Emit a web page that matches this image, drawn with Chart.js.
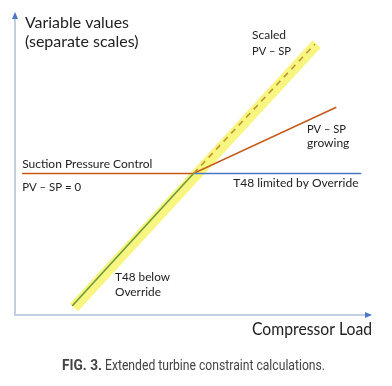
<!DOCTYPE html>
<html>
<head>
<meta charset="utf-8">
<script src="https://cdn.jsdelivr.net/npm/chart.js@4.4.1/dist/chart.umd.min.js"></script>
<style>
  html, body { margin: 0; padding: 0; background: #fff; }
  #wrap { width: 392px; height: 386px; position: relative; }
</style>
</head>
<body>
<div id="wrap"><canvas id="turbineChart"></canvas></div>
<script>
// line data (x = compressor load, y = variable value, arbitrary units 0-100)
const suctionX = [2, 50, 90];
const suctionY = [47, 47, 69];
const t48LimitedX = [50, 97];
const t48LimitedY = [47, 47];
const t48BelowX = [16, 50];
const t48BelowY = [3, 47];
const scaledX = [50, 84];
const scaledY = [47, 90];
const highlightX = [16.5, 84.5];
const highlightY = [2.5, 90];

const pts = (xs, ys) => xs.map((x, i) => ({ x: x, y: ys[i] }));

// text notes, anchored in data units
const notes = [
  { lines: ['Variable values', '(separate scales)'], x: 2.8, y: 95.4, size: 16, gap: 19, w: [104, 115] },
  { lines: ['Scaled', 'PV \u2013 SP'], x: 66.4, y: 91.7, size: 12, gap: 16, w: [34, 39] },
  { lines: ['PV \u2013 SP', 'growing'], x: 81.8, y: 60.5, size: 12, gap: 14, w: [39, 44] },
  { lines: ['Suction Pressure Control'], x: 2, y: 48.8, size: 12, gap: 0, w: [133] },
  { lines: ['PV \u2013 SP = 0'], x: 2, y: 41.2, size: 12, gap: 0, w: [59] },
  { lines: ['T48 limited by Override'], x: 61.1, y: 42.5, size: 12, gap: 0, w: [127] },
  { lines: ['T48 below', 'Override'], x: 28, y: 11.3, size: 12, gap: 15, w: [55, 46] },
];

const axesAndText = {
  id: 'axesAndText',
  beforeDatasetsDraw(chart) {
    const ctx = chart.ctx;
    const a = chart.chartArea;
    ctx.save();
    ctx.strokeStyle = '#c3cfe0';
    ctx.lineWidth = 2;
    ctx.beginPath();
    ctx.moveTo(a.left, 18);
    ctx.lineTo(a.left, a.bottom);
    ctx.lineTo(a.right - 4, a.bottom);
    ctx.stroke();
    ctx.fillStyle = '#4a78c4';
    ctx.beginPath();
    ctx.moveTo(a.left, 12);
    ctx.lineTo(a.left - 3, 19);
    ctx.lineTo(a.left + 3, 19);
    ctx.closePath();
    ctx.fill();
    ctx.beginPath();
    ctx.moveTo(a.right, a.bottom);
    ctx.lineTo(a.right - 7, a.bottom - 3);
    ctx.lineTo(a.right - 7, a.bottom + 3);
    ctx.closePath();
    ctx.fill();
    ctx.restore();
  },
  afterDraw(chart) {
    const ctx = chart.ctx;
    const sx = chart.scales.x, sy = chart.scales.y;
    ctx.save();
    ctx.fillStyle = '#222';
    ctx.textBaseline = 'alphabetic';
    ctx.textAlign = 'left';
    notes.forEach(n => {
      ctx.font = n.size + 'px Lato, "Open Sans", sans-serif';
      const px = sx.getPixelForValue(n.x);
      const py = sy.getPixelForValue(n.y);
      n.lines.forEach((t, i) => ctx.fillText(t, px, py + i * n.gap, n.w[i]));
    });
    // x axis title
    ctx.font = '17px Lato, "Open Sans", sans-serif';
    ctx.textAlign = 'right';
    ctx.fillText('Compressor Load', chart.chartArea.right, chart.chartArea.bottom + 20, 120);
    // caption
    ctx.fillStyle = '#444';
    ctx.textAlign = 'left';
    ctx.font = 'bold 14px Roboto, sans-serif';
    const lead = 'FIG. 3.';
    let x0 = 62;
    ctx.fillText(lead, x0, 370, 40);
    const lw = Math.min(ctx.measureText(lead).width, 40);
    ctx.font = '14px Roboto, sans-serif';
    ctx.fillText(' Extended turbine constraint calculations.', x0 + lw, 370, 263 - lw);
    ctx.restore();
  }
};

new Chart(document.getElementById('turbineChart'), {
  type: 'scatter',
  data: {
    datasets: [
      {
        label: 'Scaled PV - SP',
        data: pts(scaledX, scaledY),
        showLine: true,
        borderColor: '#bf9530',
        borderWidth: 1.6,
        borderDash: [6, 5],
        pointRadius: 0
      },
      {
        label: 'T48 below Override',
        data: pts(t48BelowX, t48BelowY),
        showLine: true,
        borderColor: '#6b9a3c',
        borderWidth: 1.6,
        pointRadius: 0
      },
      {
        label: 'T48 limited by Override',
        data: pts(t48LimitedX, t48LimitedY),
        showLine: true,
        borderColor: '#4a78c4',
        borderWidth: 1.6,
        pointRadius: 0
      },
      {
        label: 'Suction Pressure Control',
        data: pts(suctionX, suctionY),
        showLine: true,
        borderColor: '#c55a1a',
        borderWidth: 1.6,
        pointRadius: 0
      },
      {
        label: 'Highlight',
        data: pts(highlightX, highlightY),
        showLine: true,
        borderColor: 'rgba(244, 240, 70, 0.68)',
        borderWidth: 11,
        borderCapStyle: 'butt',
        pointRadius: 0
      }
    ]
  },
  options: {
    responsive: true,
    maintainAspectRatio: false,
    animation: false,
    layout: { padding: { left: 15, top: 14, right: 20, bottom: 71 } },
    scales: {
      x: {
        type: 'linear',
        min: 0,
        max: 100,
        display: true,
        grid: { display: false },
        border: { display: false },
        ticks: { display: false },
        afterFit(scale) { scale.height = 0; }
      },
      y: {
        type: 'linear',
        min: 0,
        max: 100,
        display: true,
        grid: { display: false },
        border: { display: false },
        ticks: { display: false },
        afterFit(scale) { scale.width = 0; }
      }
    },
    plugins: {
      legend: { display: false },
      tooltip: { enabled: false }
    }
  },
  plugins: [axesAndText]
});
</script>
</body>
</html>
